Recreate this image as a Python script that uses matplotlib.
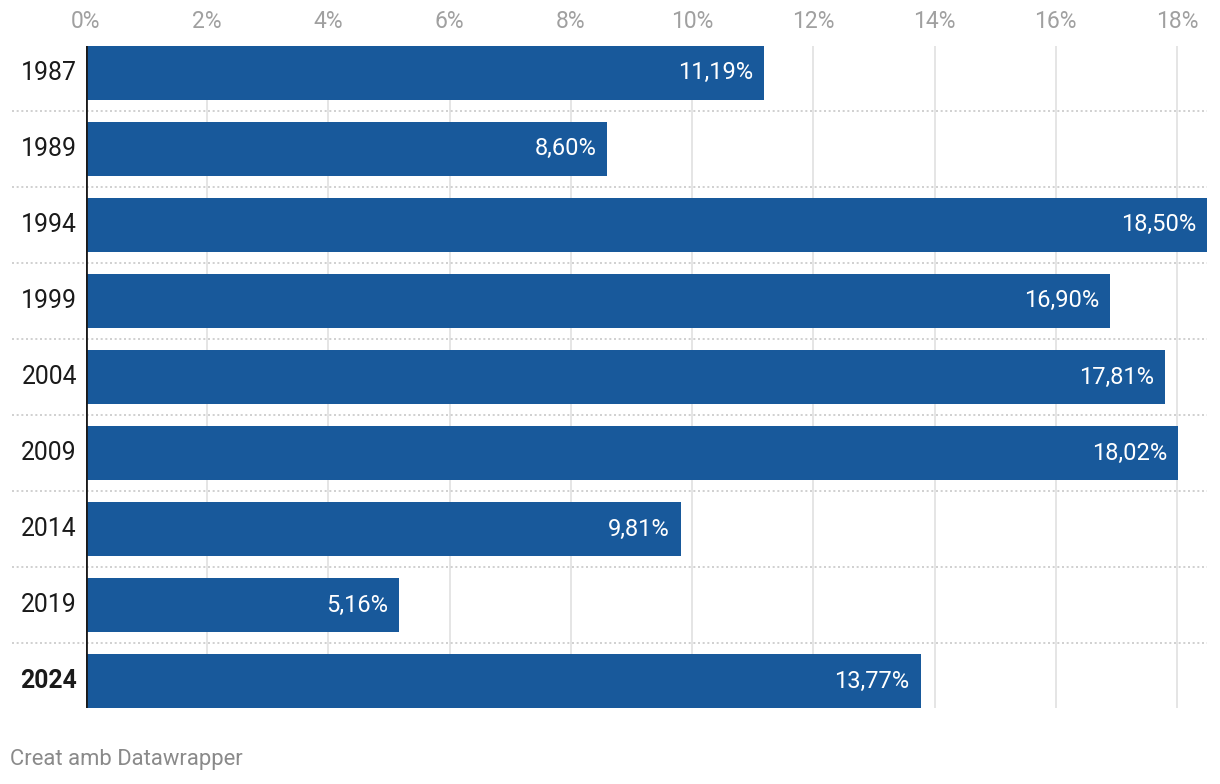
import matplotlib
matplotlib.use("Agg")
import matplotlib.pyplot as plt

plt.rcParams['font.family'] = ['Roboto', 'DejaVu Sans']

years = ["1987", "1989", "1994", "1999", "2004", "2009", "2014", "2019", "2024"]
values = [11.19, 8.60, 18.50, 16.90, 17.81, 18.02, 9.81, 5.16, 13.77]
xticks = [0, 2, 4, 6, 8, 10, 12, 14, 16, 18]
bold_years = ["2024"]

W, H = 1220, 784
fig = plt.figure(figsize=(W / 100, H / 100), dpi=100)
left_px, right_px, top_px, bot_px = 86, 1207.3, 46, 708
ax = fig.add_axes([left_px / W, 1 - bot_px / H, (right_px - left_px) / W, (bot_px - top_px) / H])

bar_h = 53.5 / 76
n = len(years)
ypos = list(range(n))
ax.barh(ypos, values, height=bar_h, color="#18599b", zorder=2)
ax.set_xlim(0, 18.5)
ax.set_ylim(n - 1 + bar_h / 2, -bar_h / 2)

# gridlines
for t in xticks[1:]:
    ax.axvline(t, color="#e3e3e3", lw=1.3, zorder=1)
ax.axvline(0, color="#1a1a1a", lw=2, zorder=3)

# separators
px_per_unit = (right_px - left_px) / 18.5
x_start = (12 - left_px) / px_per_unit
for i in range(n - 1):
    ax.plot([x_start, 18.5], [i + 0.5, i + 0.5], color="#c8c8c8", lw=1.2,
            linestyle=(0, (1.2, 1.6)), clip_on=False, zorder=1)

# value labels
for i, v in enumerate(values):
    ax.text(v - 11 / px_per_unit, i, f"{v:.2f}%".replace(".", ","), ha="right", va="center",
            color="white", fontsize=17, zorder=4)

# year labels
for i, y in enumerate(years):
    ax.text(-9 / px_per_unit, i, y, ha="right", va="center", color="#1a1a1a", fontsize=17.8,
            fontweight="bold" if y in bold_years else "normal")

# top tick labels
for t in xticks:
    ax.text(t, -bar_h / 2 - 24 / 76, f"{t}%", ha="center", va="center", color="#a0a0a0",
            fontsize=16.5, clip_on=False)

for s in ax.spines.values():
    s.set_visible(False)
ax.set_xticks([])
ax.set_yticks([])

fig.text(10 / W, 1 - 760 / H, "Creat amb Datawrapper", ha="left", va="center", color="#8a8a8a", fontsize=15.8)

fig.savefig("out.png", dpi=100)
